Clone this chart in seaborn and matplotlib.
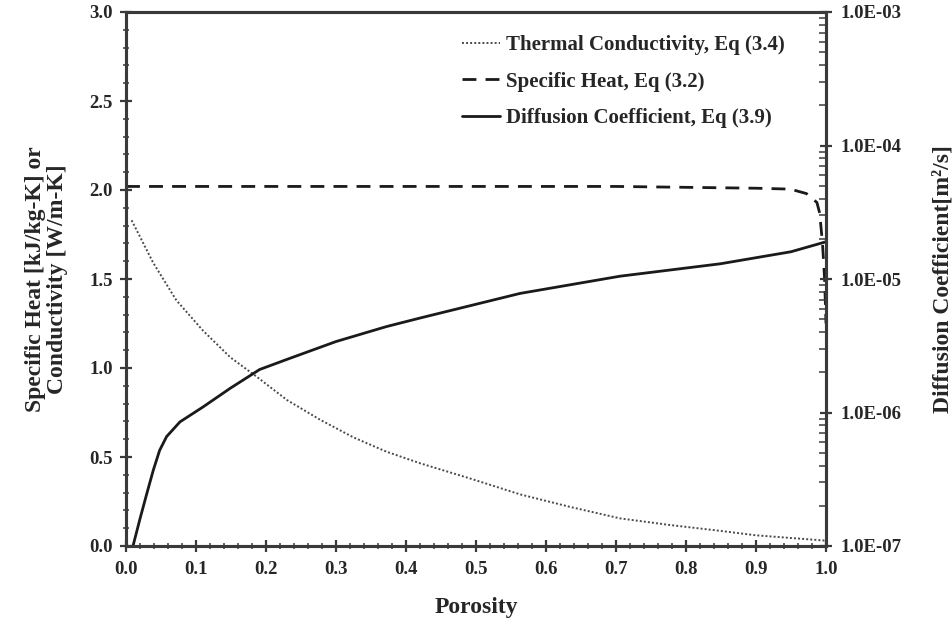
import numpy as np
import pandas as pd
import matplotlib
matplotlib.use("Agg")
import matplotlib.pyplot as plt
import seaborn as sns
from matplotlib.ticker import MultipleLocator, FixedLocator, NullFormatter, LogLocator

# ---- data ----
k_porosity = [0.008, 0.039, 0.072, 0.11, 0.149, 0.187, 0.23, 0.277, 0.325, 0.372, 0.42, 0.491,
              0.563, 0.634, 0.706, 0.777, 0.849, 0.9, 0.95, 1.0]
k_values = [1.83, 1.59, 1.38, 1.21, 1.06, 0.95, 0.82, 0.71, 0.61, 0.53, 0.465, 0.38,
            0.29, 0.22, 0.155, 0.118, 0.085, 0.06, 0.045, 0.03]

cp_porosity = [0.0, 0.1, 0.2, 0.3, 0.4, 0.5, 0.6, 0.7, 0.8, 0.9, 0.949, 0.972, 0.987, 0.991,
               0.995, 0.998, 1.0]
cp_values = [2.02, 2.02, 2.02, 2.02, 2.02, 2.02, 2.02, 2.02, 2.015, 2.01, 2.005, 1.98, 1.93, 1.87,
             1.70, 1.50, 1.25]

d_porosity = [0.01, 0.02, 0.03, 0.039, 0.048, 0.058, 0.077, 0.11, 0.149, 0.191, 0.23, 0.30, 0.372,
              0.42, 0.563, 0.706, 0.849, 0.95, 1.0]
d_values = [1.0e-7, 1.6e-7, 2.5e-7, 3.7e-7, 5.2e-7, 6.6e-7, 8.5e-7, 1.1e-6, 1.52e-6, 2.1e-6, 2.5e-6,
            3.4e-6, 4.4e-6, 5.1e-6, 7.8e-6, 1.05e-5, 1.3e-5, 1.6e-5, 1.9e-5]

x_ticks = [0.0, 0.1, 0.2, 0.3, 0.4, 0.5, 0.6, 0.7, 0.8, 0.9, 1.0]
left_ticks = [0.0, 0.5, 1.0, 1.5, 2.0, 2.5, 3.0]
right_ticks = [1e-7, 1e-6, 1e-5, 1e-4, 1e-3]
right_labels = ["1.0E-07", "1.0E-06", "1.0E-05", "1.0E-04", "1.0E-03"]

labels = ["Thermal Conductivity, Eq (3.4)", "Specific Heat, Eq (3.2)", "Diffusion Coefficient, Eq (3.9)"]

# ---- style ----
sns.set_style("ticks")
plt.rcParams['font.family'] = ['Liberation Serif', 'DejaVu Serif']
plt.rcParams['font.weight'] = 'bold'
text_col = "#262626"
axis_col = "#3a3a3a"

fig = plt.figure(figsize=(9.53, 6.21), dpi=100)
ax = fig.add_axes([126 / 953, 1 - 546 / 621, 700 / 953, 534 / 621])
ax2 = ax.twinx()

df_k = pd.DataFrame({"x": k_porosity, "y": k_values})
df_cp = pd.DataFrame({"x": cp_porosity, "y": cp_values})
df_d = pd.DataFrame({"x": d_porosity, "y": d_values})

sns.lineplot(data=df_k, x="x", y="y", ax=ax, color="#4a4a4a", lw=1.4, linestyle=(0, (1, 1.1)), sort=False)
sns.lineplot(data=df_cp, x="x", y="y", ax=ax, color="#1a1a1a", lw=2.0, linestyle=(0, (5, 3.3)), sort=False)
sns.lineplot(data=df_d, x="x", y="y", ax=ax2, color="#1a1a1a", lw=2.0, sort=False)

ax.set_xlim(0, 1.0)
ax.set_ylim(0, 3.0)
ax2.set_yscale("log")
ax2.set_ylim(1e-7, 1e-3)

ax.xaxis.set_major_locator(FixedLocator(x_ticks))
ax.xaxis.set_minor_locator(MultipleLocator(0.02))
ax.yaxis.set_major_locator(FixedLocator(left_ticks))
ax.yaxis.set_minor_locator(MultipleLocator(0.1))
ax.set_xticklabels([f"{v:.1f}" for v in x_ticks])
ax.set_yticklabels([f"{v:.1f}" for v in left_ticks])

ax2.yaxis.set_major_locator(FixedLocator(right_ticks))
ax2.set_yticklabels(right_labels)
ax2.yaxis.set_minor_locator(LogLocator(base=10, subs=np.arange(2, 10)))
ax2.yaxis.set_minor_formatter(NullFormatter())

for a in (ax, ax2):
    for s in a.spines.values():
        s.set_linewidth(2.2)
        s.set_color(axis_col)
    a.tick_params(which="major", direction="inout", length=9, width=1.6, colors=axis_col,
                  labelsize=13.5, labelcolor=text_col)
    a.tick_params(which="minor", direction="inout", length=4, width=1.1, colors=axis_col)
ax2.tick_params(which="minor", direction="in", length=5)
ax.tick_params(axis="x", pad=6)
ax.tick_params(axis="y", pad=5)
ax2.tick_params(axis="y", pad=6)

for lab in ax.get_xticklabels() + ax.get_yticklabels() + ax2.get_yticklabels():
    lab.set_fontweight("bold")

ax.set_xlabel("Porosity", fontsize=17, fontweight="bold", color=text_col, labelpad=14)
ax.set_ylabel("Specific Heat [kJ/kg-K] or\nConductivity [W/m-K]", fontsize=17, fontweight="bold",
              color=text_col, labelpad=15, linespacing=1.1)
ax2.set_ylabel("Diffusion Coefficient[m²/s]", fontsize=17, fontweight="bold", color=text_col, labelpad=22)

lines = ax.get_lines()[:2] + ax2.get_lines()[:1]
leg = ax.legend(lines, labels, loc="upper left", bbox_to_anchor=(0.48, 0.956), frameon=False,
                prop={"weight": "bold", "size": 15}, handlelength=1.8, handletextpad=0.3,
                labelspacing=0.78, borderaxespad=0, borderpad=0)
for t in leg.get_texts():
    t.set_color(text_col)

fig.savefig("out.png", dpi=100)
